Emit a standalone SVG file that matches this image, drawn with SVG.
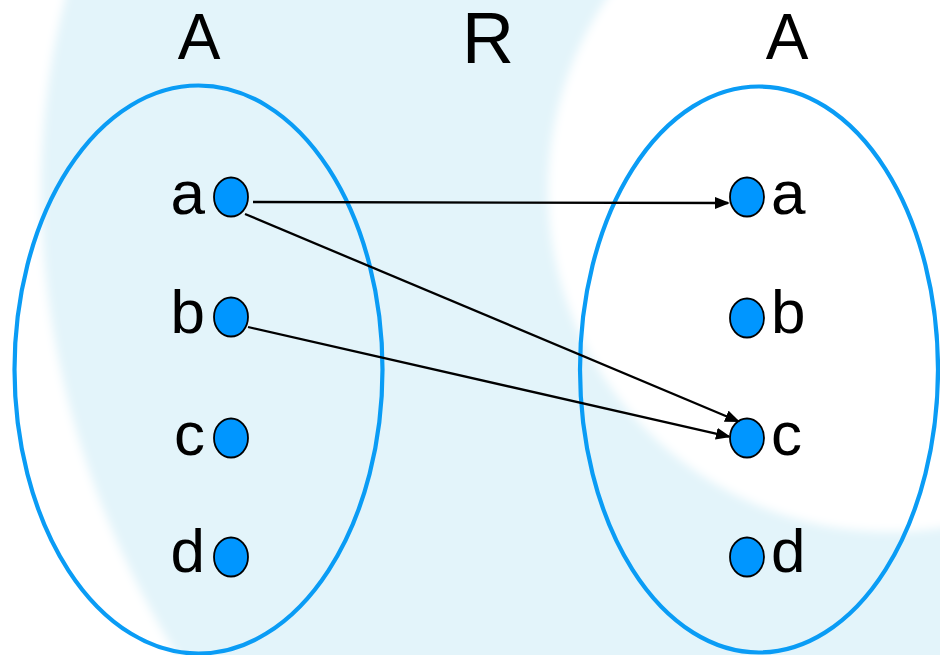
<svg xmlns="http://www.w3.org/2000/svg" width="940" height="655" viewBox="0 0 940 655">
  <style>
    .set { fill: none; stroke: #0a9cf5; stroke-width: 4.2; }
    .dot { fill: #0096ff; stroke: #000; stroke-width: 1.8; }
    .lbl { font-family: "Liberation Sans", Arial, sans-serif; font-size: 62px; fill: #000; }
    .title { font-family: "Liberation Sans", Arial, sans-serif; fill: #000; text-anchor: middle; }
    .edge { stroke: #000; stroke-width: 2.3; fill: none; marker-end: url(#arrow); }
  </style>
  <defs>
    <marker id="arrow" viewBox="0 0 15 12" refX="13" refY="6" markerWidth="15" markerHeight="12" markerUnits="userSpaceOnUse" orient="auto">
      <path d="M0,0 L15,6 L0,12 Z" fill="#000"/>
    </marker>
    <filter id="soft" x="-20%" y="-20%" width="140%" height="140%">
      <feGaussianBlur stdDeviation="5"/>
    </filter>
  </defs>

  <g id="background">
    <rect x="0" y="0" width="940" height="655" fill="#e3f4fa"/>
    <path d="M-30,-30 L70,-30 L65,0 C25,150 20,400 177,655 L177,690 L-30,690 Z" fill="#ffffff" filter="url(#soft)"/>
    <circle cx="890" cy="190" r="342" fill="#ffffff" filter="url(#soft)"/>
  </g>

  <g id="titles">
    <text class="title" x="199" y="59" font-size="64">A</text>
    <text class="title" x="488" y="63" font-size="72">R</text>
    <text class="title" x="787" y="59" font-size="64">A</text>
  </g>

  <g id="left-set">
    <ellipse class="set" cx="198.5" cy="369.5" rx="184" ry="284"/>
  </g>
  <g id="right-set">
    <ellipse class="set" cx="759" cy="369.5" rx="179" ry="283"/>
  </g>

  <g id="L-a"><ellipse class="dot" cx="231" cy="197" rx="17" ry="19.5"/><text class="lbl" x="205" y="214" text-anchor="end">a</text></g>
  <g id="L-b"><ellipse class="dot" cx="231" cy="317" rx="17" ry="19.5"/><text class="lbl" x="205" y="333" text-anchor="end">b</text></g>
  <g id="L-c"><ellipse class="dot" cx="231" cy="438" rx="17" ry="19.5"/><text class="lbl" x="205" y="455" text-anchor="end">c</text></g>
  <g id="L-d"><ellipse class="dot" cx="231" cy="557" rx="17" ry="19.5"/><text class="lbl" x="205" y="572" text-anchor="end">d</text></g>

  <g id="R-a"><ellipse class="dot" cx="747" cy="197" rx="17" ry="19.5"/><text class="lbl" x="771" y="214">a</text></g>
  <g id="R-b"><ellipse class="dot" cx="747" cy="318" rx="17" ry="19.5"/><text class="lbl" x="771" y="333">b</text></g>
  <g id="R-c"><ellipse class="dot" cx="747" cy="438" rx="17" ry="19.5"/><text class="lbl" x="771" y="455">c</text></g>
  <g id="R-d"><ellipse class="dot" cx="747" cy="557" rx="17" ry="19.5"/><text class="lbl" x="771" y="572">d</text></g>

  <g id="connectors">
    <line class="edge" x1="253" y1="202" x2="728" y2="203"/>
    <line class="edge" x1="245" y1="214" x2="738.2" y2="421.2"/>
    <line class="edge" x1="248" y1="327" x2="729" y2="436.6"/>
  </g>
</svg>
